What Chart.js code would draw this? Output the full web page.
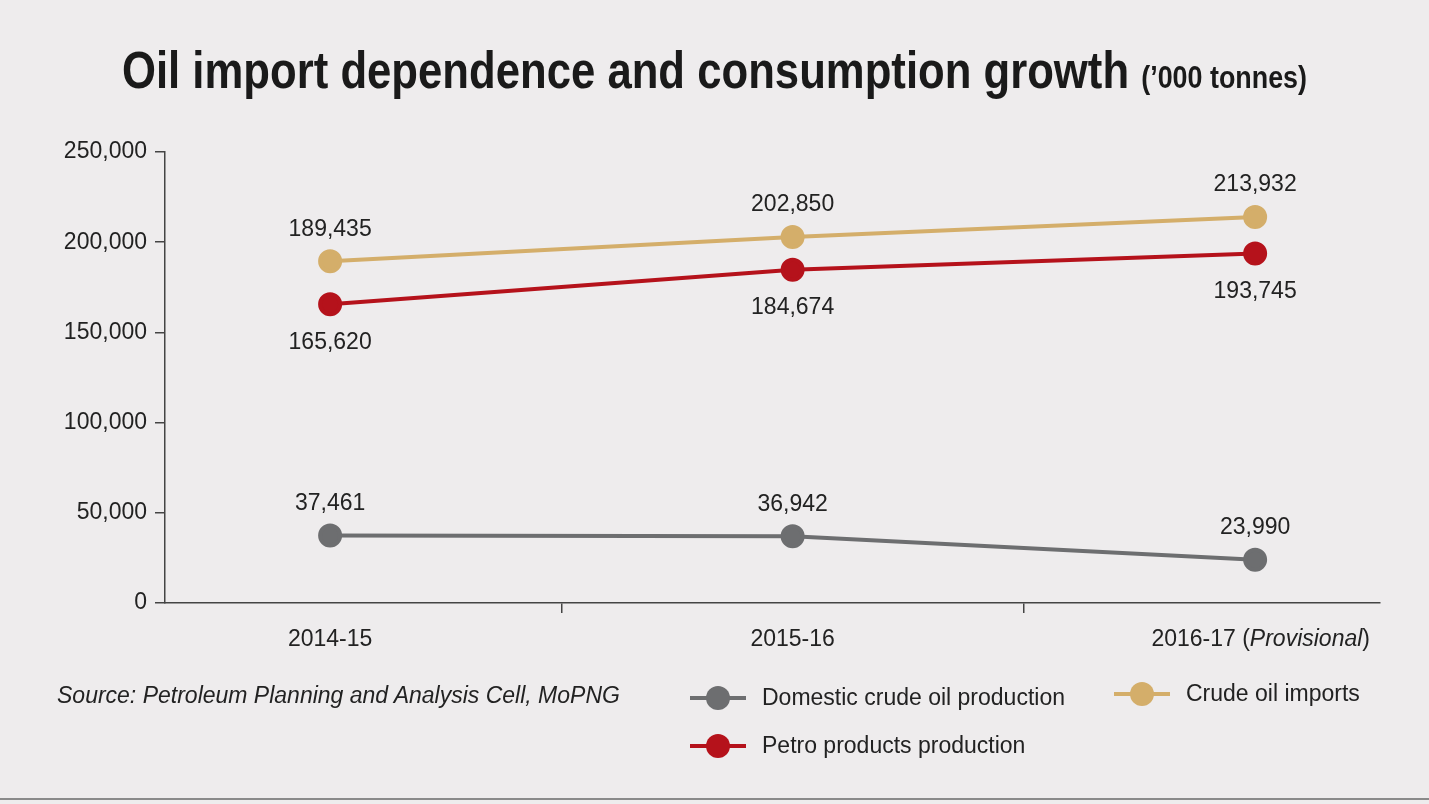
<!DOCTYPE html>
<html>
<head>
<meta charset="utf-8">
<script src="https://cdn.jsdelivr.net/npm/chart.js@4"></script>
<style>
  body { margin: 0; background: #eeeced; font-family: "Liberation Sans Narrow", "Liberation Sans", sans-serif; }
  #wrap { position: relative; width: 1429px; height: 804px; overflow: hidden; }
  canvas { position: absolute; left: 0; top: 0; }
  .title { position: absolute; left: 0; width: 1429px; top: 40px; text-align: center; font-weight: 900; font-size: 52px; color: #1a1a1a; transform: scaleX(0.84); }
  .title small { font-size: 32px; }
  .src { position: absolute; left: 57px; top: 682px; font-size: 23px; font-style: italic; color: #222; }
  .leg { position: absolute; font-size: 23px; color: #222; display: flex; align-items: center; }
  .leg i { display: inline-block; width: 56px; height: 4px; position: relative; margin-right: 16px; }
  .leg i::after { content: ""; position: absolute; left: 16px; top: -10px; width: 24px; height: 24px; border-radius: 50%; background: inherit; }
  .rule { position: absolute; left: 0; right: 0; top: 798px; height: 2px; background: #8a8a8a; }
</style>
</head>
<body>
<div id="wrap">
  <canvas id="c" width="1429" height="804"></canvas>
  <div class="title">Oil import dependence and consumption growth <small>(’000 tonnes)</small></div>
  <div class="src">Source: Petroleum Planning and Analysis Cell, MoPNG</div>
  <div class="leg" style="left:690px;top:684px"><i style="background:#6d6e70"></i>Domestic crude oil production</div>
  <div class="leg" style="left:1114px;top:680px"><i style="background:#d4ae6a"></i>Crude oil imports</div>
  <div class="leg" style="left:690px;top:732px"><i style="background:#b5121b"></i>Petro products production</div>
  <div class="rule"></div>
</div>
<script>
const categories = ["2014-15", "2015-16", "2016-17"];
const domestic = [37461, 36942, 23990];
const imports = [189435, 202850, 213932];
const petro = [165620, 184674, 193745];
const yTicks = [0, 50000, 100000, 150000, 200000, 250000];

const FONT = "'Liberation Sans Narrow', 'Liberation Sans', sans-serif";
const pts = arr => arr.map((v, i) => ({ x: i, y: v }));

const labelPlugin = {
  id: "labels",
  afterDatasetsDraw(chart) {
    const ctx = chart.ctx;
    ctx.save();
    ctx.font = "23px " + FONT;
    ctx.fillStyle = "#222";
    ctx.textAlign = "center";
    ctx.textBaseline = "middle";
    chart.data.datasets.forEach((ds, di) => {
      chart.getDatasetMeta(di).data.forEach((p, i) => {
        const v = ds.data[i].y.toLocaleString("en-US");
        const dy = ds.below ? 38 : -32;
        ctx.fillText(v, p.x, p.y + dy);
      });
    });
    // category labels
    const xs = chart.scales.x;
    const y = 640;
    categories.forEach((c, i) => {
      const px = xs.getPixelForValue(i);
      if (i === 2) {
        const a = c + " (", b = "Provisional", e = ")";
        ctx.font = "italic 23px " + FONT; const wb = ctx.measureText(b).width;
        ctx.font = "23px " + FONT;
        const wa = ctx.measureText(a).width, we = ctx.measureText(e).width;
        const x0 = 1370 - (wa + wb + we);
        ctx.textAlign = "left";
        ctx.fillText(a, x0, y);
        ctx.font = "italic 23px " + FONT; ctx.fillText(b, x0 + wa, y);
        ctx.font = "23px " + FONT; ctx.fillText(e, x0 + wa + wb, y);
        ctx.textAlign = "center";
      } else {
        ctx.fillText(c, px, y);
      }
    });
    ctx.restore();
  }
};

const mk = (label, data, color, below) => ({
  label, data: pts(data), borderColor: color, backgroundColor: color,
  borderWidth: 4, pointRadius: 10, pointHoverRadius: 10, below
});

new Chart(document.getElementById("c"), {
  type: "line",
  data: {
    datasets: [
      mk("Domestic crude oil production", domestic, "#6d6e70", false),
      mk("Crude oil imports", imports, "#d4ae6a", false),
      mk("Petro products production", petro, "#b5121b", true)
    ]
  },
  options: {
    responsive: false,
    animation: false,
    layout: { padding: { top: 152, right: 49, bottom: 0, left: 0 } },
    plugins: { legend: { display: false }, tooltip: { enabled: false } },
    scales: {
      x: {
        type: "linear", min: -0.357, max: 2.27,
        afterBuildTicks: s => { s.ticks = [{ value: 0.5 }, { value: 1.5 }]; },
        afterFit: s => { s.height = 201; },
        ticks: { display: false },
        grid: { drawOnChartArea: false, tickLength: 10, color: "#444", lineWidth: 1.5 },
        border: { color: "#444", width: 1.5 }
      },
      y: {
        min: 0, max: 250000,
        afterBuildTicks: s => { s.ticks = yTicks.map(v => ({ value: v })); },
        afterFit: s => { s.width = 165; },
        ticks: { font: { size: 23, family: FONT }, color: "#222", padding: 8,
          callback: v => v.toLocaleString("en-US") },
        grid: { drawOnChartArea: false, tickLength: 10, color: "#444", lineWidth: 1.5 },
        border: { color: "#444", width: 1.5 }
      }
    }
  },
  plugins: [labelPlugin]
});
</script>
</body>
</html>
